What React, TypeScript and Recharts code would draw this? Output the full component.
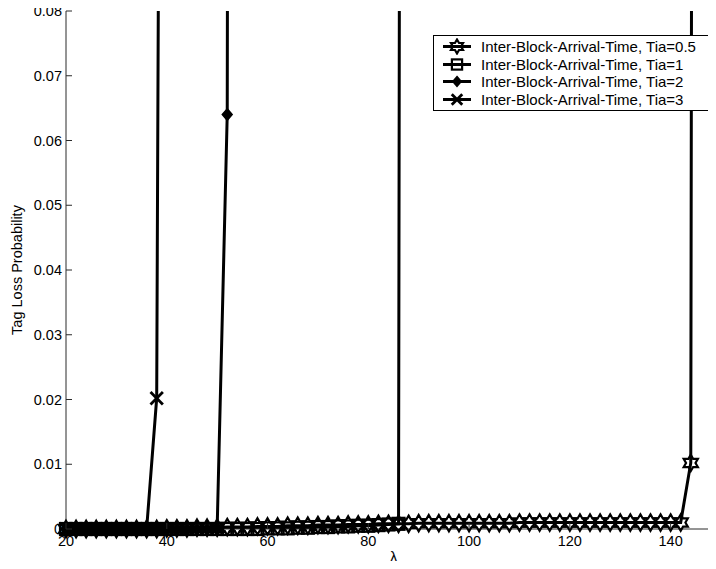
import React from 'react';
import { LineChart, Line, XAxis, YAxis, Legend } from 'recharts';

// ---- data ----
const lambdaGrid = [
  20, 22, 24, 26, 28, 30, 32, 34, 36, 38,
  40, 42, 44, 46, 48, 50, 52, 54, 56, 58,
  60, 62, 64, 66, 68, 70, 72, 74, 76, 78,
  80, 82, 84, 86, 88, 90, 92, 94, 96, 98,
  100, 102, 104, 106, 108, 110, 112, 114, 116, 118,
  120, 122, 124, 126, 128, 130, 132, 134, 136, 138,
  140, 142, 144, 146, 148, 150,
];

// Tia = 0.5 (hexagram)
const lossTia05 = [
  0, 0, 0, 0, 0, 0, 0, 0, 0, 0,
  0.0001, 0.0001, 0.0001, 0.0002, 0.0002, 0.0002, 0.0003, 0.0003, 0.0003, 0.0004,
  0.0004, 0.0004, 0.0005, 0.0005, 0.0005, 0.0006, 0.0006, 0.0006, 0.0007, 0.0007,
  0.0007, 0.0008, 0.0008, 0.0008, 0.0008, 0.0009, 0.0009, 0.0009, 0.0009, 0.0009,
  0.0009, 0.0009, 0.0009, 0.0009, 0.0009, 0.001, 0.001, 0.001, 0.001, 0.001,
  0.001, 0.001, 0.001, 0.001, 0.001, 0.001, 0.001, 0.001, 0.001, 0.001,
  0.001, 0.001, 0.0102, 1.0,
];

// Tia = 1 (square)
const lossTia1 = [
  0, 0, 0, 0, 0, 0, 0, 0, 0, 0,
  0, 0, 0, 0, 0, 0, 0, 0, 0, 0,
  0.0001, 0.0001, 0.0001, 0.0002, 0.0002, 0.0003, 0.0003, 0.0004, 0.0004, 0.0005,
  0.0005, 0.0006, 0.0007, 0.0008, 1.0,
];

// Tia = 2 (diamond)
const lossTia2 = [
  0, 0, 0, 0, 0, 0, 0, 0, 0, 0,
  0, 0, 0, 0, 0, 0.0001, 0.064, 1.0,
];

// Tia = 3 (x)
const lossTia3 = [
  0, 0, 0, 0, 0, 0, 0, 0, 0, 0.0202, 0.4,
];

const seriesNames = [
  'Inter-Block-Arrival-Time, Tia=0.5',
  'Inter-Block-Arrival-Time, Tia=1',
  'Inter-Block-Arrival-Time, Tia=2',
  'Inter-Block-Arrival-Time, Tia=3',
];
const seriesMarkers = ['hexagram', 'square', 'diamond', 'x'];
const seriesValues = [lossTia05, lossTia1, lossTia2, lossTia3];

const xTicks = [20, 40, 60, 80, 100, 120, 140];
const yTicks = [0, 0.01, 0.02, 0.03, 0.04, 0.05, 0.06, 0.07, 0.08];
const xDomain = [20, 150];
const yDomain = [0, 0.08];

// ---- styles ----
const FONT = '"Liberation Sans", Arial, Helvetica, sans-serif';
const AXIS = '#2a2a2a';
const TICK_FS = 14.5;
const LEGEND_FS = 15;
const TICK_LEN = 6;
const Y_MARGIN = 4;
const X_MARGIN = 7;

const toPoints = (vals: number[]) => vals.map((v, i) => ({ x: lambdaGrid[i], y: v }));
const series = seriesValues.map((vals, i) => ({
  name: seriesNames[i],
  marker: seriesMarkers[i],
  line: toPoints(vals),
  marks: toPoints(vals).filter((p) => p.y <= yDomain[1]),
  // the first series' markers are bound to the top/right frame axes so those axes get drawn
  markX: i === 0 ? 'top' : 'bottom',
  markY: i === 0 ? 'right' : 'marks',
}));

function Marker({ kind, cx, cy, scale = 1 }: { kind: string; cx: number; cy: number; scale?: number }) {
  if (cx == null || cy == null || isNaN(cx) || isNaN(cy)) return null;
  if (kind === 'hexagram') {
    const R = 8.2 * scale;
    const r = R / Math.sqrt(3);
    const pts: string[] = [];
    for (let k = 0; k < 12; k++) {
      const a = ((-90 + k * 30) * Math.PI) / 180;
      const rad = k % 2 === 0 ? R : r;
      pts.push(`${cx + rad * Math.cos(a)},${cy + rad * Math.sin(a)}`);
    }
    return <polygon points={pts.join(' ')} fill="none" stroke="#000" strokeWidth={2.2} />;
  }
  if (kind === 'square') {
    const h = 6 * scale;
    return <rect x={cx - h} y={cy - h} width={2 * h} height={2 * h} fill="none" stroke="#000" strokeWidth={2.2} />;
  }
  if (kind === 'diamond') {
    const h = 5.8 * scale;
    return (
      <polygon
        points={`${cx},${cy - h} ${cx + h * 0.85},${cy} ${cx},${cy + h} ${cx - h * 0.85},${cy}`}
        fill="#000"
        stroke="#000"
        strokeWidth={1.5}
      />
    );
  }
  const h = 6.2 * scale;
  return (
    <g stroke="#000" strokeWidth={2.8}>
      <line x1={cx - h} y1={cy - h} x2={cx + h} y2={cy + h} />
      <line x1={cx - h} y1={cy + h} x2={cx + h} y2={cy - h} />
    </g>
  );
}

const fmtY = (v: number) => (v === 0 ? '0' : v.toFixed(2));

const LeftTick = (p: any) => {
  const ax = p.x + Y_MARGIN;
  return (
    <g>
      <line x1={ax} x2={ax + TICK_LEN} y1={p.y} y2={p.y} stroke={AXIS} strokeWidth={1} />
      <text x={p.x} y={p.y} dy="0.355em" textAnchor="end" fontFamily={FONT} fontSize={TICK_FS} fill="#000">
        {fmtY(p.payload.value)}
      </text>
    </g>
  );
};

const RightTick = (p: any) => (
  <line x1={p.x} x2={p.x - TICK_LEN} y1={p.y} y2={p.y} stroke={AXIS} strokeWidth={1} />
);

const BottomTick = (p: any) => {
  const ay = p.y - X_MARGIN;
  return (
    <g>
      <line x1={p.x} x2={p.x} y1={ay} y2={ay - TICK_LEN} stroke={AXIS} strokeWidth={1} />
      <text x={p.x} y={p.y} dy="0.71em" textAnchor="middle" fontFamily={FONT} fontSize={TICK_FS} fill="#000">
        {p.payload.value}
      </text>
    </g>
  );
};

const TopTick = (p: any) => (
  <line x1={p.x} x2={p.x} y1={p.y} y2={p.y + TICK_LEN} stroke={AXIS} strokeWidth={1} />
);

const LegendBox = () => (
  <div
    style={{
      border: '1px solid #000',
      background: '#fff',
      padding: '2px 0',
      fontFamily: FONT,
      fontSize: LEGEND_FS,
      lineHeight: '17.5px',
      color: '#000',
      boxSizing: 'border-box',
    }}
  >
    {series.map((s) => (
      <div key={s.name} style={{ display: 'flex', alignItems: 'center', height: 17.5 }}>
        <svg width={47} height={17} style={{ flex: 'none' }}>
          <line x1={9} x2={37} y1={8.5} y2={8.5} stroke="#000" strokeWidth={3} />
          <Marker kind={s.marker} cx={23} cy={8.5} scale={0.85} />
        </svg>
        <span style={{ whiteSpace: 'nowrap' }}>{s.name}</span>
      </div>
    ))}
  </div>
);

export default function App() {
  return (
    <div
      style={{
        margin: -8,
        width: 716,
        height: 569,
        overflow: 'hidden',
        position: 'relative',
        background: '#fff',
      }}
    >
      <LineChart width={730} height={569} margin={{ top: 11, right: 9, bottom: 10, left: 6 }}>
        <XAxis
          xAxisId="bottom"
          type="number"
          dataKey="x"
          domain={xDomain}
          ticks={xTicks}
          interval={0}
          height={30}
          tickSize={0}
          tickMargin={X_MARGIN}
          tick={<BottomTick />}
          axisLine={{ stroke: AXIS, strokeWidth: 1 }}
          tickLine={false}
          label={{ value: 'λ', position: 'insideBottom', offset: -3, fontFamily: FONT, fontSize: TICK_FS, fill: '#000' }}
        />
        <XAxis
          xAxisId="top"
          orientation="top"
          type="number"
          dataKey="x"
          domain={xDomain}
          ticks={xTicks}
          interval={0}
          height={0}
          tickSize={0}
          tickMargin={0}
          tick={<TopTick />}
          axisLine={{ stroke: AXIS, strokeWidth: 1 }}
          tickLine={false}
        />
        <YAxis
          yAxisId="main"
          type="number"
          domain={yDomain}
          ticks={yTicks}
          interval={0}
          allowDataOverflow
          width={60}
          tickSize={0}
          tickMargin={Y_MARGIN}
          tick={<LeftTick />}
          axisLine={{ stroke: AXIS, strokeWidth: 1 }}
          tickLine={false}
          label={{
            value: 'Tag Loss Probability',
            angle: -90,
            position: 'insideLeft',
            offset: 11,
            fontFamily: FONT,
            fontSize: TICK_FS,
            fill: '#000',
            style: { textAnchor: 'middle' },
          }}
        />
        <YAxis
          yAxisId="right"
          orientation="right"
          type="number"
          domain={yDomain}
          ticks={yTicks}
          interval={0}
          width={0}
          tickSize={0}
          tickMargin={0}
          tick={<RightTick />}
          axisLine={{ stroke: AXIS, strokeWidth: 1 }}
          tickLine={false}
        />
        <YAxis yAxisId="marks" type="number" domain={yDomain} hide />
        <Legend
          layout="vertical"
          align="center"
          verticalAlign="middle"
          content={<LegendBox />}
          wrapperStyle={{ position: 'absolute', left: 433, top: 35, width: 276, height: 76 }}
        />
        {series.map((s) => [
          <Line
            key={`${s.name}-line`}
            xAxisId="bottom"
            yAxisId="main"
            data={s.line}
            dataKey="y"
            type="linear"
            stroke="#000"
            strokeWidth={3}
            dot={false}
            activeDot={false}
            isAnimationActive={false}
            legendType="none"
          />,
          <Line
            key={`${s.name}-marks`}
            xAxisId={s.markX}
            yAxisId={s.markY}
            data={s.marks}
            dataKey="y"
            type="linear"
            stroke="none"
            strokeWidth={0}
            dot={(p: any) => <Marker key={`${s.name}-m-${p.index}`} kind={s.marker} cx={p.cx} cy={p.cy} />}
            activeDot={false}
            isAnimationActive={false}
            legendType="none"
          />,
        ])}
      </LineChart>
    </div>
  );
}
